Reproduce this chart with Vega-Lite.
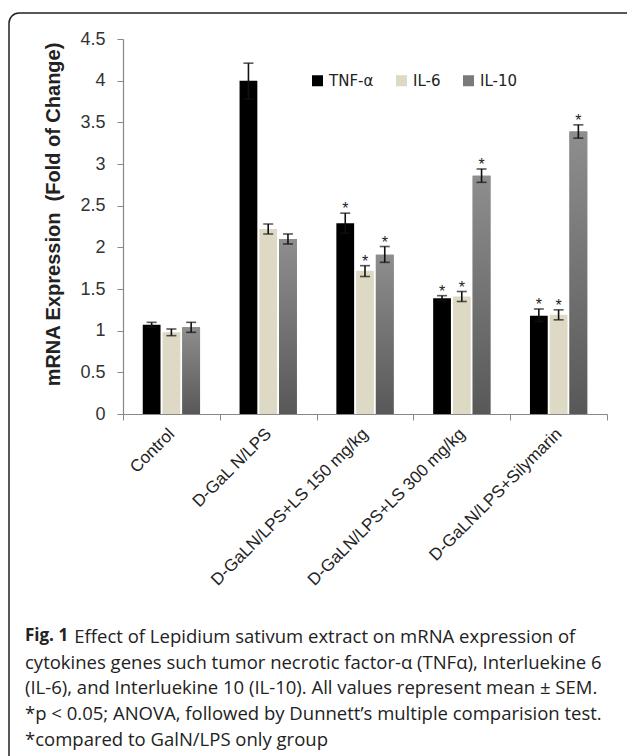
{
  "$schema": "https://vega.github.io/schema/vega-lite/v6.json",
  "autosize": "none",
  "padding": {"left": 9, "top": 13, "right": 0, "bottom": 0},
  "width": 640,
  "height": 760,
  "background": "white",
  "config": {
    "view": {"stroke": "#222", "strokeWidth": 1.5, "cornerRadius": 10, "fill": "white"},
    "axis": {"grid": false}
  },
  "title": {
    "text": "Fig. 1",
    "subtitle": [
      "\u200b\u2002\u2002\u2002\u2002\u2002\u2009Effect of Lepidium sativum extract on mRNA expression of",
      "cytokines genes such tumor necrotic factor-α (TNFα), Interluekine 6",
      "(IL-6), and Interluekine 10 (IL-10). All values represent mean ± SEM.",
      "*p < 0.05; ANOVA, followed by Dunnett’s multiple comparision test.",
      "*compared to GalN/LPS only group"
    ],
    "orient": "bottom",
    "anchor": "start",
    "frame": "group",
    "offset": -145,
    "dx": 16,
    "font": "Open Sans",
    "fontSize": 17,
    "fontWeight": "bold",
    "color": "#222",
    "subtitleFont": "Open Sans",
    "subtitleFontSize": 18.5,
    "subtitleColor": "#222",
    "subtitleLineHeight": 25.7,
    "subtitlePadding": -17
  },
  "data": {
    "values": [
      {"group": "Control", "series": "TNF-α", "mean": 1.07, "lo": 1.04, "hi": 1.10, "sig": ""},
      {"group": "Control", "series": "IL-6", "mean": 0.98, "lo": 0.94, "hi": 1.02, "sig": ""},
      {"group": "Control", "series": "IL-10", "mean": 1.04, "lo": 0.98, "hi": 1.10, "sig": ""},
      {"group": "D-GaL N/LPS", "series": "TNF-α", "mean": 4.0, "lo": 3.78, "hi": 4.21, "sig": ""},
      {"group": "D-GaL N/LPS", "series": "IL-6", "mean": 2.22, "lo": 2.16, "hi": 2.28, "sig": ""},
      {"group": "D-GaL N/LPS", "series": "IL-10", "mean": 2.10, "lo": 2.04, "hi": 2.16, "sig": ""},
      {"group": "D-GaLN/LPS+LS 150 mg/kg", "series": "TNF-α", "mean": 2.29, "lo": 2.17, "hi": 2.41, "sig": "*"},
      {"group": "D-GaLN/LPS+LS 150 mg/kg", "series": "IL-6", "mean": 1.72, "lo": 1.65, "hi": 1.78, "sig": "*"},
      {"group": "D-GaLN/LPS+LS 150 mg/kg", "series": "IL-10", "mean": 1.91, "lo": 1.82, "hi": 2.01, "sig": "*"},
      {"group": "D-GaLN/LPS+LS 300 mg/kg", "series": "TNF-α", "mean": 1.39, "lo": 1.36, "hi": 1.42, "sig": "*"},
      {"group": "D-GaLN/LPS+LS 300 mg/kg", "series": "IL-6", "mean": 1.41, "lo": 1.35, "hi": 1.47, "sig": "*"},
      {"group": "D-GaLN/LPS+LS 300 mg/kg", "series": "IL-10", "mean": 2.86, "lo": 2.78, "hi": 2.94, "sig": "*"},
      {"group": "D-GaLN/LPS+Silymarin", "series": "TNF-α", "mean": 1.18, "lo": 1.11, "hi": 1.26, "sig": "*"},
      {"group": "D-GaLN/LPS+Silymarin", "series": "IL-6", "mean": 1.19, "lo": 1.13, "hi": 1.25, "sig": "*"},
      {"group": "D-GaLN/LPS+Silymarin", "series": "IL-10", "mean": 3.39, "lo": 3.31, "hi": 3.47, "sig": "*"}
    ]
  },
  "encoding": {
    "x": {
      "field": "group",
      "type": "nominal",
      "sort": null,
      "scale": {"range": [114, 598], "paddingInner": 0, "paddingOuter": 0},
      "axis": {
        "title": null,
        "orient": "bottom",
        "offset": -359,
        "labelAngle": -45,
        "labelAlign": "right",
        "labelBaseline": "middle",
        "labelFont": "Liberation Sans",
        "labelFontSize": 17,
        "labelColor": "#222",
        "labelPadding": 11,
        "labelLimit": 500,
        "tickBand": "extent",
        "tickSize": 6,
        "tickColor": "#888",
        "domainColor": "#888",
        "domainWidth": 1.2,
        "labelOverlap": false
      }
    },
    "xOffset": {
      "field": "series",
      "type": "nominal",
      "scale": {"domain": ["TNF-α", "IL-6", "IL-10"], "paddingInner": 0.1, "paddingOuter": 1.0}
    }
  },
  "layer": [
    {
      "mark": {"type": "bar"},
      "encoding": {
        "y": {
          "field": "mean",
          "type": "quantitative",
          "scale": {"domain": [0, 4.5], "range": [401, 26], "nice": false},
          "axis": {
            "orient": "left",
            "offset": -114,
            "values": [0, 0.5, 1, 1.5, 2, 2.5, 3, 3.5, 4, 4.5],
            "format": "~g",
            "title": "mRNA Expression\u00a0 (Fold of Change)",
            "titleFont": "Liberation Sans",
            "titleFontSize": 20,
            "titleFontWeight": "bold",
            "titleColor": "#222",
            "titleAngle": -90,
            "titleAlign": "center",
            "titleBaseline": "middle",
            "titleX": -70,
            "titleY": 201,
            "labelFont": "Liberation Sans",
            "labelFontSize": 18,
            "labelColor": "#333",
            "labelPadding": 12,
            "tickSize": 6,
            "tickColor": "#888",
            "domainColor": "#888",
            "domainWidth": 1.2
          }
        },
        "color": {
          "field": "series",
          "type": "nominal",
          "scale": {"domain": ["TNF-α", "IL-6", "IL-10"], "range": ["#000000", "#ddd9c4", "#7a7a7a"]},
          "legend": {
            "title": null,
            "orient": "none",
            "legendX": 301,
            "legendY": 60,
            "direction": "horizontal",
            "symbolType": "square",
            "symbolSize": 121,
            "symbolStrokeWidth": 0,
            "labelFont": "DejaVu Sans",
            "labelFontSize": 15,
            "labelColor": "#222",
            "labelOffset": 4,
            "columnPadding": 20,
            "padding": 0
          }
        }
      }
    },
    {
      "transform": [{"filter": "datum.series === 'IL-10'"}],
      "mark": {
        "type": "bar",
        "fill": {
          "gradient": "linear",
          "x1": 0, "y1": 0, "x2": 0, "y2": 1,
          "stops": [
            {"offset": 0, "color": "#8e8e8e"},
            {"offset": 1, "color": "#585858"}
          ]
        }
      },
      "encoding": {
        "y": {"field": "mean", "type": "quantitative"}
      }
    },
    {
      "mark": {"type": "rule", "color": "#111", "strokeWidth": 1.6},
      "encoding": {
        "y": {"field": "lo", "type": "quantitative"},
        "y2": {"field": "hi"}
      }
    },
    {
      "mark": {"type": "tick", "color": "#111", "thickness": 1.6, "size": 10},
      "encoding": {
        "y": {"field": "lo", "type": "quantitative"}
      }
    },
    {
      "mark": {"type": "tick", "color": "#111", "thickness": 1.6, "size": 10},
      "encoding": {
        "y": {"field": "hi", "type": "quantitative"}
      }
    },
    {
      "mark": {"type": "text", "font": "Liberation Sans", "fontSize": 16, "baseline": "alphabetic", "dy": 1, "color": "#222"},
      "encoding": {
        "y": {"field": "hi", "type": "quantitative"},
        "text": {"field": "sig"}
      }
    }
  ]
}
